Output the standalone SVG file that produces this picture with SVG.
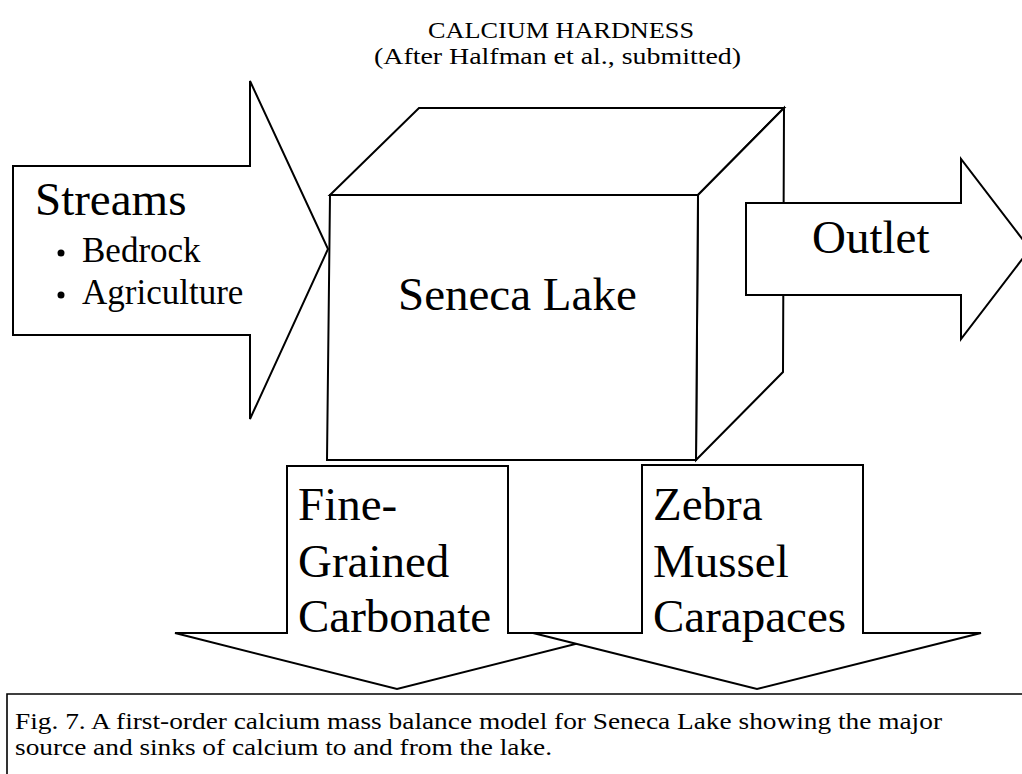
<svg xmlns="http://www.w3.org/2000/svg" width="1022" height="774" viewBox="0 0 1022 774">
  <style>
    .shape { fill: #ffffff; stroke: #000000; stroke-width: 2; stroke-linejoin: miter; }
    .line { fill: none; stroke: #000000; stroke-width: 1.6; }
    .big { font-family: "Liberation Serif", "Times New Roman", serif; font-size: 47px; fill: #000000; }
    .mid { font-family: "Liberation Serif", "Times New Roman", serif; font-size: 35px; fill: #000000; }
    .small { font-family: "Liberation Serif", "Times New Roman", serif; font-size: 24px; fill: #000000; }
    .cap { font-family: "Liberation Serif", "Times New Roman", serif; font-size: 23px; fill: #000000; }
  </style>
  <rect x="0" y="0" width="1022" height="774" fill="#ffffff"/>

  <g id="title">
    <text class="small" x="428" y="38" textLength="266" lengthAdjust="spacingAndGlyphs">CALCIUM HARDNESS</text>
    <text class="small" x="374" y="64" textLength="367" lengthAdjust="spacingAndGlyphs">(After Halfman et al., submitted)</text>
  </g>

  <g id="seneca-lake">
    <polygon class="shape" points="330,195 419,108 784,108 698,195"/>
    <polygon class="shape" points="698,195 784,108 783,372 696,460"/>
    <polygon class="shape" points="330,195 698,195 696,460 327,460"/>
    <text class="big" x="398" y="310">Seneca Lake</text>
  </g>

  <g id="streams">
    <polygon class="shape" points="13,166 250,166 250,81 328,249 250,419 250,335 13,335"/>
    <text class="big" x="35" y="215">Streams</text>
    <circle cx="61" cy="253" r="3.5" fill="#000000"/>
    <text class="mid" x="82" y="262">Bedrock</text>
    <circle cx="61" cy="295" r="3.5" fill="#000000"/>
    <text class="mid" x="82" y="304">Agriculture</text>
  </g>

  <g id="outlet">
    <polygon class="shape" points="746,203 961,203 961,159 1030,249 961,339 961,295 746,295"/>
    <text class="big" x="812" y="253">Outlet</text>
  </g>

  <g id="fine-grained-carbonate">
    <polygon class="shape" points="287,466 508,466 508,633 619,633 397,689 175,633 287,633"/>
    <text class="big" x="298" y="520">Fine-</text>
    <text class="big" x="298" y="577">Grained</text>
    <text class="big" x="298" y="632">Carbonate</text>
  </g>

  <g id="zebra-mussel-carapaces">
    <polygon class="shape" points="642,465 863,465 863,633 981,633 757,689 533,633 642,633"/>
    <text class="big" x="653" y="520">Zebra</text>
    <text class="big" x="653" y="577">Mussel</text>
    <text class="big" x="653" y="632">Carapaces</text>
  </g>

  <g id="connectors"></g>

  <g id="caption">
    <path class="line" d="M7,774 V694 H1022"/>
    <text class="cap" x="15" y="729" textLength="927" lengthAdjust="spacingAndGlyphs">Fig. 7. A first-order calcium mass balance model for Seneca Lake showing the major</text>
    <text class="cap" x="15" y="755" textLength="537" lengthAdjust="spacingAndGlyphs">source and sinks of calcium to and from the lake.</text>
  </g>
</svg>
